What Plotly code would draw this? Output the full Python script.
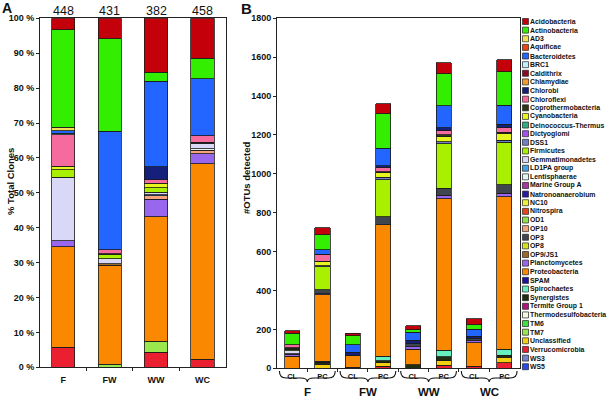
import plotly.graph_objects as go

W, H = 608, 401

# ---------------- data ----------------
taxa = ["Acidobacteria", "Actinobacteria", "AD3", "Aquificae", "Bacteroidetes", "BRC1",
        "Caldithrix", "Chlamydiae", "Chlorobi", "Chloroflexi", "Coprothermobacteria",
        "Cyanobacteria", "Deinococcus-Thermus", "Dictyoglomi", "DSS1", "Firmicutes",
        "Gemmatimonadetes", "LD1PA group", "Lentisphaerae", "Marine Group A",
        "Natronoanaerobium", "NC10", "Nitrospira", "OD1", "OP10", "OP3", "OP8", "OP9/JS1",
        "Planctomycetes", "Proteobacteria", "SPAM", "Spirochaetes", "Synergistes",
        "Termite Group 1", "Thermodesulfobacteria", "TM6", "TM7", "Unclassified",
        "Verrucomicrobia", "WS3", "WS5"]

taxa_colors = ["#c4000a", "#33ee00", "#f5e05a", "#ee4411", "#2266ff", "#bfeff8",
               "#8a0a2a", "#f29a2e", "#14207a", "#f56b9e", "#2b3a14",
               "#e6f51e", "#2fae86", "#a64ef0", "#6f7fc8", "#a8f000",
               "#d9d9f7", "#3fa3e6", "#e0f7f0", "#a33aa3",
               "#2a1aa8", "#ecf03a", "#e8451a", "#8fe04a", "#f5a27f", "#3f4650", "#d4e21e", "#9a6a2a",
               "#9966ee", "#fa8800", "#2212a0", "#66f0c0", "#1f2e12",
               "#b3127a", "#f7f7e2", "#3ee03e", "#9ae84e", "#f2cf10",
               "#ea2030", "#7484d2", "#2a4af0"]

# Panel A: % of total clones
samples_A = ["F", "FW", "WW", "WC"]
clones_A = [448, 431, 382, 458]
pct_A = {
    "Acidobacteria":       [3.3, 5.8, 15.4, 11.5],
    "Actinobacteria":      [27.9, 26.5, 2.7, 5.8],
    "AD3":                 [1.0, 0, 0, 0],
    "Bacteroidetes":       [0.8, 34.0, 24.5, 16.4],
    "BRC1":                [0.3, 0, 0, 0],
    "Chlorobi":            [0, 0, 3.6, 0],
    "Chloroflexi":         [9.1, 1.2, 1.1, 1.8],
    "Coprothermobacteria": [0, 0.3, 0, 0.3],
    "Cyanobacteria":       [1.0, 0, 1.2, 0],
    "Firmicutes":          [2.2, 1.1, 1.4, 0],
    "Gemmatimonadetes":    [18.1, 1.4, 0.6, 1.6],
    "LD1PA group":         [0, 0, 0.3, 0],
    "Lentisphaerae":       [0, 0, 0, 0.4],
    "OP10":                [0, 0, 1.0, 1.0],
    "OP9/JS1":             [0, 0.5, 0, 0],
    "Planctomycetes":      [1.8, 0, 5.1, 2.9],
    "Proteobacteria":      [28.7, 28.3, 35.7, 56.0],
    "TM7":                 [0, 0.9, 3.1, 0],
    "Verrucomicrobia":     [5.8, 0, 4.3, 2.3],
}

# Panel B: number of OTUs detected
groups_B = ["F", "FW", "WW", "WC"]
methods_B = ["CL", "PC", "CL", "PC", "CL", "PC", "CL", "PC"]
otus_B = {
    "Acidobacteria":       [13, 36, 12, 52, 21, 58, 31, 62],
    "Actinobacteria":      [58, 77, 48, 176, 12, 165, 21, 170],
    "Bacteroidetes":       [0, 23, 38, 90, 40, 111, 36, 98],
    "Chlorobi":            [0, 3, 17, 10, 20, 16, 12, 18],
    "Chloroflexi":         [16, 32, 0, 21, 0, 22, 0, 24],
    "Coprothermobacteria": [4, 3, 0, 5, 0, 9, 0, 5],
    "Cyanobacteria":       [4, 20, 0, 24, 0, 25, 0, 35],
    "DSS1":                [0, 5, 0, 12, 0, 12, 0, 11],
    "Firmicutes":          [8, 120, 0, 190, 0, 228, 0, 220],
    "Gemmatimonadetes":    [14, 0, 0, 0, 0, 0, 0, 0],
    "OP3":                 [5, 19, 0, 43, 14, 35, 12, 43],
    "Planctomycetes":      [8, 7, 0, 0, 13, 20, 10, 17],
    "Proteobacteria":      [62, 340, 60, 674, 81, 779, 122, 785],
    "Spirochaetes":        [0, 6, 0, 25, 0, 32, 0, 30],
    "Synergistes":         [0, 9, 0, 10, 17, 20, 0, 11],
    "Unclassified":        [0, 22, 0, 18, 0, 25, 0, 28],
    "Verrucomicrobia":     [0, 0, 5, 10, 0, 15, 10, 29],
}

# ---------------- figure ----------------
FONT = "Liberation Sans"
OUT = "#1a1a1a"
color_of = dict(zip(taxa, taxa_colors))

def nz(vals):
    return [v if v else None for v in vals]

def px_x(p):
    return p / W

def px_y(p):
    return 1 - p / H

fig = go.Figure()
for name in reversed(taxa):  # bottom of stack = last legend entry
    if name in pct_A:
        fig.add_trace(go.Bar(x=list(range(len(samples_A))), y=nz(pct_A[name]), name=name,
                             marker=dict(color=color_of[name], line=dict(color=OUT, width=0.8)),
                             xaxis="x", yaxis="y", showlegend=False, hoverinfo="name+y"))
for name in reversed(taxa):
    if name in otus_B:
        fig.add_trace(go.Bar(x=list(range(len(methods_B))), y=nz(otus_B[name]), name=name,
                             marker=dict(color=color_of[name], line=dict(color=OUT, width=0.8)),
                             xaxis="x2", yaxis="y2", showlegend=False, hoverinfo="name+y"))

# legend drawn as a column of squares (one per taxon) + labels
LEG_Y0, LEG_DY = 21.5, 8.63
idx = list(range(len(taxa)))
fig.add_trace(go.Scatter(x=[0] * len(taxa), y=idx, mode="markers",
                         marker=dict(symbol="square", size=6, color=taxa_colors,
                                     line=dict(color="#222", width=0.7)),
                         xaxis="x3", yaxis="y3", showlegend=False, hoverinfo="skip", cliponaxis=False))

axis_common = dict(showgrid=False, zeroline=False, showline=True, mirror=True, automargin=False,
                   linecolor="#222", linewidth=1, tickcolor="#222")

fig.update_layout(
    width=W, height=H, margin=dict(l=0, r=0, t=0, b=0, pad=0, autoexpand=False),
    paper_bgcolor="white", plot_bgcolor="white", showlegend=False,
    barmode="stack", bargap=0.5,
    font=dict(family=FONT, color="#111"),
    xaxis=dict(domain=[px_x(40), px_x(225.6)], range=[-0.5, 3.5],
               tickvals=list(range(len(samples_A))), ticktext=samples_A, ticks="",
               ticklabelstandoff=4,
               minor=dict(tickvals=[0.5, 1.5, 2.5], ticks="outside", ticklen=3, tickcolor="#222"),
               tickfont=dict(size=9, weight="bold"), anchor="y", fixedrange=True, **axis_common),
    yaxis=dict(domain=[px_y(367.3), px_y(18.3)], range=[0, 100],
               tickvals=list(range(0, 101, 10)), ticktext=[f"{v} %" for v in range(0, 101, 10)],
               ticks="outside", ticklen=3, tickfont=dict(size=9, weight="bold"),
               anchor="x", fixedrange=True, **axis_common),
    xaxis2=dict(domain=[px_x(277), px_x(519.5)], range=[-0.5, 7.5],
                tickvals=list(range(len(methods_B))), ticktext=methods_B, ticks="",
                ticklabelstandoff=1,
                minor=dict(tickvals=[i + 0.5 for i in range(7)], ticks="outside", ticklen=3, tickcolor="#222"),
                tickfont=dict(size=7.5, weight="bold"), anchor="y2", fixedrange=True, **axis_common),
    yaxis2=dict(domain=[px_y(368.3), px_y(18.3)], range=[0, 1800], dtick=200,
                ticks="outside", ticklen=3, tickfont=dict(size=9, weight="bold"),
                anchor="x2", fixedrange=True, **axis_common),
    xaxis3=dict(domain=[px_x(522), 1], range=[-3.5, 82.5], visible=False, fixedrange=True,
                automargin=False),
    yaxis3=dict(domain=[0, 1], range=[(H - LEG_Y0) / LEG_DY, -LEG_Y0 / LEG_DY],
                visible=False, fixedrange=True, anchor="x3", automargin=False),
)

ann = []
for i, name in enumerate(taxa):
    ann.append(dict(x=3.2, y=i, xref="x3", yref="y3", text=name, showarrow=False,
                    font=dict(size=6.9, weight="bold", color="#111"),
                    xanchor="left", yanchor="middle", borderpad=0))
for i, n in enumerate(clones_A):
    ann.append(dict(x=i, y=px_y(11), xref="x", yref="paper", text=str(n), showarrow=False,
                    font=dict(size=12.5, color="#111"), xanchor="center", yanchor="middle"))
ann.append(dict(x=px_x(1), y=px_y(-1), xref="paper", yref="paper", text="A", showarrow=False,
                font=dict(size=14, weight="bold", color="#111"), xanchor="left", yanchor="top",
                borderpad=0))
ann.append(dict(x=px_x(240), y=px_y(-1), xref="paper", yref="paper", text="B", showarrow=False,
                font=dict(size=15, weight="bold", color="#111"), xanchor="left", yanchor="top",
                borderpad=0))
ann.append(dict(x=px_x(11), y=px_y(182), xref="paper", yref="paper", text="% Total Clones",
                showarrow=False, textangle=-90, font=dict(size=9.5, weight="bold", color="#111"),
                xanchor="center", yanchor="middle"))
ann.append(dict(x=px_x(246), y=px_y(178), xref="paper", yref="paper", text="#OTUs detected",
                showarrow=False, textangle=-90, font=dict(size=9.5, weight="bold", color="#111"),
                xanchor="center", yanchor="middle"))
for g, name in enumerate(groups_B):
    ann.append(dict(x=2 * g + 0.5, y=px_y(392), xref="x2", yref="paper", text=name, showarrow=False,
                    font=dict(size=11.5, weight="bold", color="#111"), xanchor="center", yanchor="middle"))

shapes = []
ye, yh, yt = px_y(371), px_y(378), px_y(382)
for g in range(len(groups_B)):
    xc = 2 * g + 0.5
    xl, xr, d = xc - 0.92, xc + 0.92, 0.22
    path = (f"M {xl},{ye} Q {xl},{yh} {xl + d},{yh} L {xc - d},{yh} Q {xc},{yh} {xc},{yt} "
            f"Q {xc},{yh} {xc + d},{yh} L {xr - d},{yh} Q {xr},{yh} {xr},{ye}")
    shapes.append(dict(type="path", path=path, xref="x2", yref="paper",
                       line=dict(color="#111", width=1.1)))

fig.update_layout(annotations=ann, shapes=shapes)
fig.write_html("out.html", config={"displayModeBar": False},
               post_script="document.body.style.margin='0';document.body.style.overflow='hidden';")
